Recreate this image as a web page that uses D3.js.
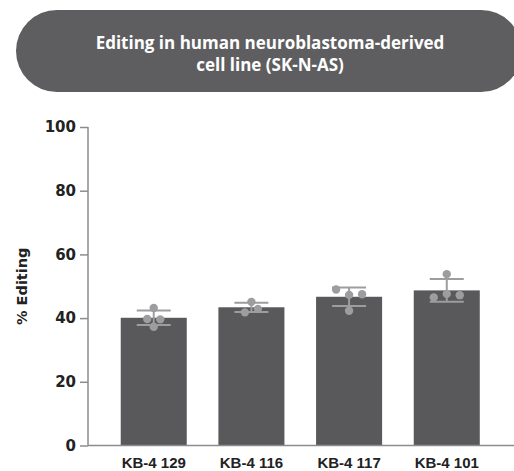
<!DOCTYPE html>
<html><head><meta charset="utf-8">
<script src="https://cdn.jsdelivr.net/npm/d3@7"></script>
<style>html,body{margin:0;padding:0;background:#fff;overflow:hidden}</style>
</head><body>
<svg id="chart" width="514" height="471"></svg>
<script>
const titleLines = ["Editing in human neuroblastoma-derived", "cell line (SK-N-AS)"];
const categories = ["KB-4 129", "KB-4 116", "KB-4 117", "KB-4 101"];
const means = [40.1, 43.4, 46.7, 48.7];
const errors = [2.3, 1.45, 2.9, 3.55];
const replicates = [
  [43.2, 39.7, 39.6, 37.3],
  [45.1, 41.8, 42.9],
  [49.0, 47.3, 47.5, 42.3],
  [53.8, 46.5, 47.6, 47.2]
];
const yTicks = [0, 20, 40, 60, 80, 100];
const yLabel = "% Editing";

const svg = d3.select("#chart");
const barColor = "#59595b", dotColor = "#9d9d9f", axisColor = "#8c8c8e";

// Title pill
svg.append("rect").attr("x", 16).attr("y", 10).attr("width", 506).attr("height", 82)
  .attr("rx", 41).attr("ry", 41).attr("fill", "#5e5e60");
titleLines.forEach((t, i) => {
  svg.append("text").attr("x", 270).attr("y", 49 + i * 22).attr("text-anchor", "middle")
    .attr("fill", "#fff").attr("font-family", "'Open Sans', sans-serif").attr("font-weight", 700)
    .attr("font-size", 17).text(t);
});

const y = d3.scaleLinear().domain([0, 100]).range([445.5, 127]);
const x = d3.scaleBand().domain(categories).range([104.9, 495.6]).paddingInner(0.324).paddingOuter(0.162);

// bars
svg.selectAll("rect.bar").data(categories).join("rect").attr("class", "bar")
  .attr("x", d => x(d)).attr("width", x.bandwidth())
  .attr("y", (d, i) => y(means[i])).attr("height", (d, i) => y(0) - y(means[i]))
  .attr("fill", barColor);

// error bars
const capW = 34;
categories.forEach((c, i) => {
  const cx = x(c) + x.bandwidth() / 2;
  const g = svg.append("g").attr("stroke", dotColor).attr("stroke-width", 2);
  g.append("line").attr("x1", cx).attr("x2", cx).attr("y1", y(means[i] + errors[i])).attr("y2", y(means[i] - errors[i]));
  [means[i] + errors[i], means[i] - errors[i]].forEach(v => {
    g.append("line").attr("x1", cx - capW / 2).attr("x2", cx + capW / 2).attr("y1", y(v)).attr("y2", y(v));
  });
});

// replicate dots with simple dodge of near-equal values
const spacing = 13, thresh = 1.6;
categories.forEach((c, i) => {
  const cx = x(c) + x.bandwidth() / 2;
  const vals = replicates[i].map((v, k) => ({v, k}));
  const sorted = vals.slice().sort((a, b) => a.v - b.v);
  const clusters = [];
  sorted.forEach(p => {
    const last = clusters[clusters.length - 1];
    if (last && p.v - last[last.length - 1].v < thresh) last.push(p); else clusters.push([p]);
  });
  clusters.forEach(cl => {
    cl.sort((a, b) => a.k - b.k);
    cl.forEach((p, j) => {
      svg.append("circle").attr("cx", cx + (j - (cl.length - 1) / 2) * spacing)
        .attr("cy", y(p.v)).attr("r", 4.2).attr("fill", dotColor);
    });
  });
});

// axes
const yAxis = svg.append("g").attr("transform", "translate(88,0)")
  .call(d3.axisLeft(y).tickValues(yTicks).tickSize(8).tickPadding(4));
yAxis.select(".domain").attr("stroke", axisColor).attr("stroke-width", 1.5).attr("d", `M0,${y(100)}V${y(0)}`);
yAxis.selectAll(".tick line").attr("stroke", axisColor).attr("stroke-width", 1.5);
yAxis.selectAll(".tick text").attr("fill", "#222").attr("font-family", "'DejaVu Sans', sans-serif")
  .attr("font-weight", 700).attr("font-size", 15);

svg.append("line").attr("x1", 88).attr("x2", 514).attr("y1", y(0)).attr("y2", y(0))
  .attr("stroke", axisColor).attr("stroke-width", 1.5);

const xAxis = svg.append("g").attr("transform", `translate(0,${y(0)})`)
  .call(d3.axisBottom(x).tickSize(0).tickPadding(12));
xAxis.select(".domain").remove();
xAxis.selectAll(".tick text").attr("fill", "#222").attr("font-family", "'Liberation Sans', Arial, sans-serif")
  .attr("font-weight", 700).attr("font-size", 15);

svg.append("text").attr("transform", `translate(27,${(y(0) + y(100)) / 2}) rotate(-90)`)
  .attr("text-anchor", "middle").attr("fill", "#222").attr("font-family", "'DejaVu Sans', sans-serif")
  .attr("font-weight", 700).attr("font-size", 14.5).text(yLabel);
</script>
</body></html>
